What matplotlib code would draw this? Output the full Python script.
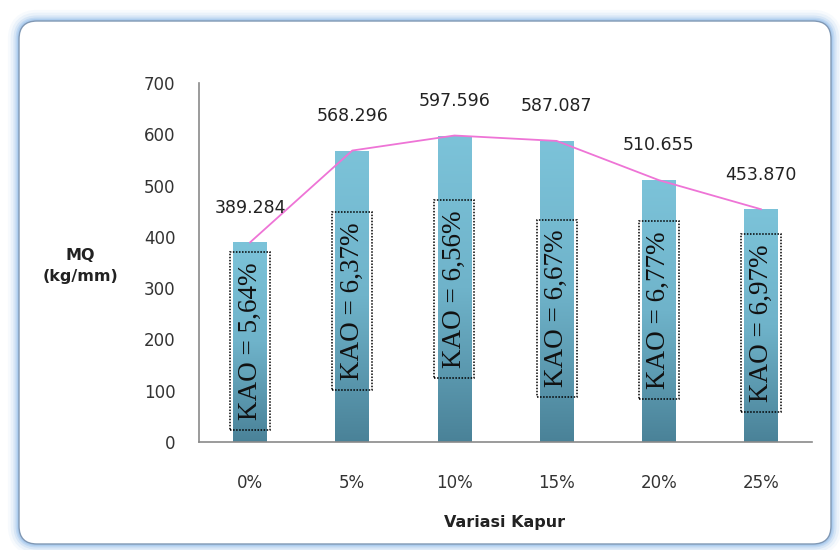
import numpy as np
import matplotlib
matplotlib.use("Agg")
import matplotlib.pyplot as plt
from matplotlib.patches import FancyBboxPatch, Rectangle
from matplotlib.colors import LinearSegmentedColormap

# data
categories = ['0%', '5%', '10%', '15%', '20%', '25%']
mq_values = [389.284, 568.296, 597.596, 587.087, 510.655, 453.870]
kao_labels = ['5,64%', '6,37%', '6,56%', '6,67%', '6,77%', '6,97%']
kao_center = [197, 275, 298, 260, 257, 232]   # where the KAO boxes sit (MQ units)
y_ticks = [0, 100, 200, 300, 400, 500, 600, 700]

W, H = 840, 550
fig = plt.figure(figsize=(W / 100, H / 100), dpi=100)

# rounded frame with soft blue glow, drawn in pixel units
bg = fig.add_axes([0, 0, 1, 1])
bg.set_xlim(0, W)
bg.set_ylim(H, 0)
bg.axis('off')
x0, y0, x1, y1 = 19, 21, 831, 544
for lw, a in [(16, 0.08), (12, 0.14), (8, 0.24), (5, 0.36), (3, 0.5)]:
    bg.add_patch(FancyBboxPatch((x0, y0), x1 - x0, y1 - y0,
                                boxstyle="round,pad=0,rounding_size=18",
                                fc='none', ec='#9cc2ec', lw=lw, alpha=a))
bg.add_patch(FancyBboxPatch((x0, y0), x1 - x0, y1 - y0,
                            boxstyle="round,pad=0,rounding_size=18",
                            fc='white', ec='#8098b4', lw=1.0))

ax = fig.add_axes([199 / W, 1 - 442 / H, (812 - 199) / W, (442 - 83) / H])
ax.patch.set_alpha(0)
x = np.arange(len(categories))
bars = ax.bar(x, mq_values, width=0.33, color='#6aaec5', zorder=2)

# vertical gradient inside each bar
cmap = LinearSegmentedColormap.from_list('bar', ['#4a8298', '#6fb3ca', '#7cc3d9'])
grad = np.linspace(0, 1, 256).reshape(-1, 1)
for b in bars:
    bx, bw, bh = b.get_x(), b.get_width(), b.get_height()
    im = ax.imshow(grad, cmap=cmap, origin='lower', aspect='auto',
                   extent=(bx, bx + bw, 0, bh), zorder=2.1)
    im.set_clip_path(b)

ax.plot(x, mq_values, color='#ee74d6', lw=1.3, zorder=3)

for xi, v in zip(x, mq_values):
    ax.annotate(f'{v:.3f}', (xi, v), xytext=(0, 25), textcoords='offset points',
                ha='center', va='center', fontsize=12.5, color='#222222')

box_w, box_h = 0.39, 346
for xi, lab, yc in zip(x, kao_labels, kao_center):
    ax.text(xi, yc, f'KAO = {lab}', rotation=90, ha='center', va='center',
            family='Liberation Serif', fontsize=19.5, color='#111111', zorder=4)
    ax.add_patch(Rectangle((xi - box_w / 2, yc - box_h / 2), box_w, box_h,
                           fc='none', ec='black', ls=(0, (1, 1)), lw=1.1, zorder=4))

ax.set_xlim(-0.5, len(categories) - 0.5)
ax.set_ylim(0, 700)
ax.set_yticks(y_ticks)
ax.set_xticks(x)
ax.set_xticklabels(categories)
ax.tick_params(axis='both', length=0, labelsize=12, colors='#333333')
ax.tick_params(axis='y', pad=17)
ax.tick_params(axis='x', pad=23)
for s in ['top', 'right']:
    ax.spines[s].set_visible(False)
for s in ['left', 'bottom']:
    ax.spines[s].set_color('#8a8a8a')
    ax.spines[s].set_linewidth(1.2)

fig.text(80 / W, 1 - 266 / H, 'MQ\n(kg/mm)', ha='center', va='center',
         fontsize=11.5, fontweight='bold', color='#222222', linespacing=1.5)
fig.text(505 / W, 1 - 522 / H, 'Variasi Kapur', ha='center', va='center',
         fontsize=11.5, fontweight='bold', color='#222222')

fig.savefig('out.png', dpi=100)
